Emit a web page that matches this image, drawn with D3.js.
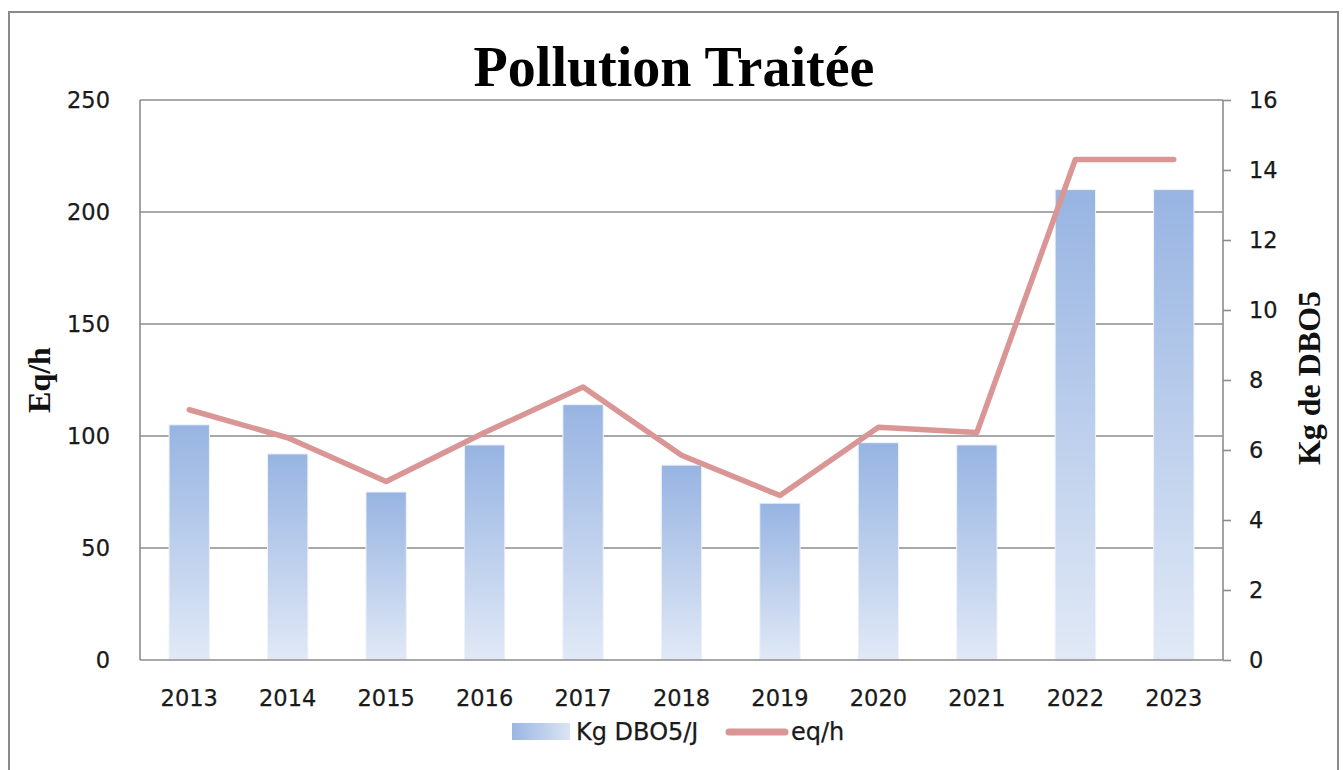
<!DOCTYPE html>
<html>
<head>
<meta charset="utf-8">
<script src="https://cdn.jsdelivr.net/npm/d3@7"></script>
<style>
  html, body { margin: 0; padding: 0; background: #fff; }
  svg { display: block; }
  .tick-label { font-family: "DejaVu Sans", sans-serif; font-size: 22.5px; fill: #1a1a1a; stroke: #1a1a1a; stroke-width: 0.25px; }
  .axis-title { font-family: "Liberation Serif", serif; font-weight: bold; font-size: 32px; fill: #111; }
</style>
</head>
<body>
<div class="js-d3"></div>
<script>
const years = ["2013", "2014", "2015", "2016", "2017", "2018", "2019", "2020", "2021", "2022", "2023"];
const kgDbo5 = [105, 92, 75, 96, 114, 87, 70, 97, 96, 210, 210];
const eqH = [7.15, 6.35, 5.1, 6.5, 7.8, 5.85, 4.7, 6.65, 6.5, 14.3, 14.3];
const leftTicks = [0, 50, 100, 150, 200, 250];
const rightTicks = [0, 2, 4, 6, 8, 10, 12, 14, 16];

const W = 1343;
const H = 770;
const margin = { top: 100, right: 120, bottom: 110, left: 140 };
const w = W - margin.left - margin.right;
const h = H - margin.top - margin.bottom;

const svg = d3
  .select(".js-d3")
  .append("svg")
  .attr("width", W)
  .attr("height", H);

// outer frame
svg
  .append("rect")
  .attr("x", 9)
  .attr("y", 12)
  .attr("width", 1329)
  .attr("height", 770)
  .attr("fill", "none")
  .attr("stroke", "#8a8a8a")
  .attr("stroke-width", 2);

const defs = svg.append("defs");
const grad = defs
  .append("linearGradient")
  .attr("id", "barGrad")
  .attr("x1", 0)
  .attr("y1", 0)
  .attr("x2", 0)
  .attr("y2", 1);
grad.append("stop").attr("offset", "0%").attr("stop-color", "#97b4e2");
grad.append("stop").attr("offset", "100%").attr("stop-color", "#e1e9f6");

const legGrad = defs
  .append("linearGradient")
  .attr("id", "legGrad")
  .attr("x1", 0)
  .attr("y1", 0)
  .attr("x2", 1)
  .attr("y2", 0);
legGrad.append("stop").attr("offset", "0%").attr("stop-color", "#9ab6e3");
legGrad.append("stop").attr("offset", "100%").attr("stop-color", "#dbe4f4");

const g = svg.append("g").attr("transform", `translate(${margin.left}, ${margin.top})`);

const x = d3.scaleBand().domain(years).range([0, w]).paddingInner(0.59).paddingOuter(0.295);
const yL = d3.scaleLinear().domain([0, 250]).range([h, 0]);
const yR = d3.scaleLinear().domain([0, 16]).range([h, 0]);

// gridlines
g.selectAll(".grid")
  .data(leftTicks.slice(1))
  .enter()
  .append("line")
  .attr("x1", 0)
  .attr("x2", w)
  .attr("y1", (d) => yL(d))
  .attr("y2", (d) => yL(d))
  .attr("stroke", "#8c8c8c")
  .attr("stroke-width", 1.6);

// bars
g.selectAll(".bar")
  .data(years)
  .enter()
  .append("rect")
  .attr("x", (d) => x(d))
  .attr("y", (d, i) => yL(kgDbo5[i]))
  .attr("width", x.bandwidth())
  .attr("height", (d, i) => h - yL(kgDbo5[i]))
  .attr("fill", "url(#barGrad)")
  .attr("stroke", "#eef2fa")
  .attr("stroke-width", 1);

// axes
const leftAxis = g
  .append("g")
  .call(d3.axisLeft(yL).tickValues(leftTicks).tickSize(0).tickPadding(30));
const rightAxis = g
  .append("g")
  .attr("transform", `translate(${w}, 0)`)
  .call(d3.axisRight(yR).tickValues(rightTicks).tickSize(8).tickPadding(18));
const bottomAxis = g
  .append("g")
  .attr("transform", `translate(0, ${h})`)
  .call(d3.axisBottom(x).tickSize(0).tickPadding(30));

[leftAxis, rightAxis, bottomAxis].forEach((a) => {
  a.select(".domain").attr("stroke", "#8c8c8c").attr("stroke-width", 1.6);
  a.selectAll(".tick line").attr("stroke", "#8c8c8c").attr("stroke-width", 1.6);
  a.selectAll(".tick text").attr("class", "tick-label").attr("fill", null);
});
rightAxis.select(".domain").attr("d", `M0,0V${h}`);
bottomAxis.select(".domain").attr("d", `M0,0H${w}`);
leftAxis.select(".domain").attr("d", `M0,0V${h}`);

// line
const line = d3
  .line()
  .x((d, i) => x(years[i]) + x.bandwidth() / 2)
  .y((d) => yR(d));

g.append("path")
  .datum(eqH)
  .attr("d", line)
  .attr("fill", "none")
  .attr("stroke", "#d99694")
  .attr("stroke-width", 5.5)
  .attr("stroke-linejoin", "round")
  .attr("stroke-linecap", "round");

// title
svg
  .append("text")
  .attr("x", 674)
  .attr("y", 86)
  .attr("text-anchor", "middle")
  .style("font-family", "'Liberation Serif', serif")
  .style("font-weight", "bold")
  .style("font-size", "56px")
  .attr("fill", "#000")
  .text("Pollution Traitée");

svg
  .append("text")
  .attr("class", "axis-title")
  .attr("transform", "translate(50, 380) rotate(-90)")
  .attr("text-anchor", "middle")
  .text("Eq/h");

svg
  .append("text")
  .attr("class", "axis-title")
  .attr("transform", "translate(1320, 378) rotate(-90)")
  .attr("text-anchor", "middle")
  .text("Kg de DBO5");

// legend
const legend = svg.append("g").attr("transform", "translate(512, 732)");
legend
  .append("rect")
  .attr("x", 0)
  .attr("y", -9)
  .attr("width", 58)
  .attr("height", 17)
  .attr("fill", "url(#legGrad)");
legend
  .append("text")
  .attr("class", "tick-label")
  .attr("x", 64)
  .attr("y", 0)
  .attr("dy", "0.35em")
  .style("font-size", "24px")
  .text("Kg DBO5/J");
legend
  .append("line")
  .attr("x1", 217)
  .attr("x2", 273)
  .attr("y1", 0)
  .attr("y2", 0)
  .attr("stroke", "#d99694")
  .attr("stroke-width", 7)
  .attr("stroke-linecap", "round");
legend
  .append("text")
  .attr("class", "tick-label")
  .attr("x", 279)
  .attr("y", 0)
  .attr("dy", "0.35em")
  .style("font-size", "24px")
  .text("eq/h");
</script>
</body>
</html>
